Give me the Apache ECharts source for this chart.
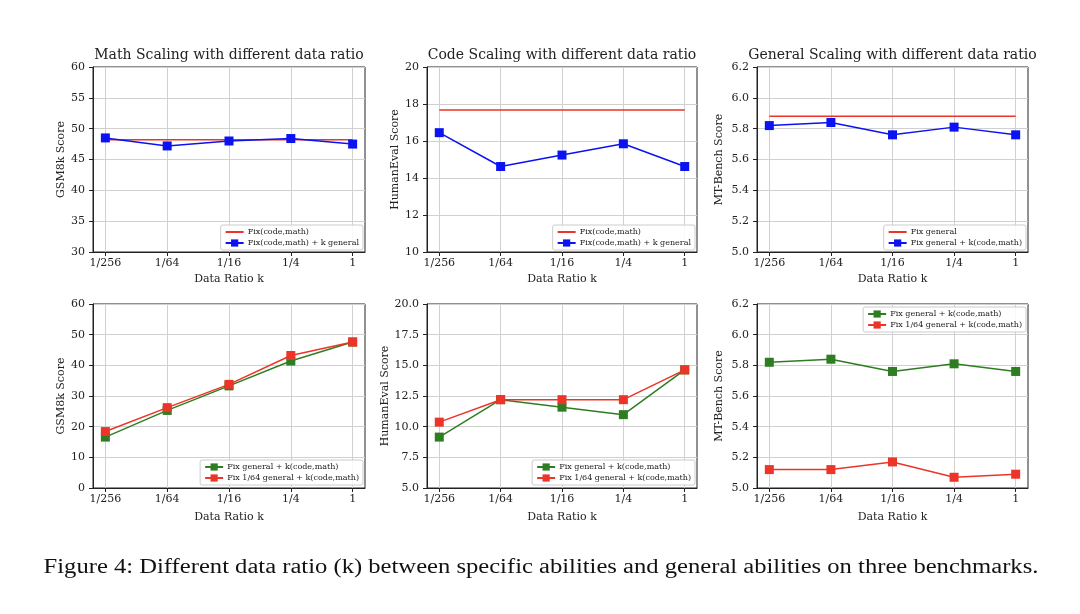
<!DOCTYPE html>
<html>
<head>
<meta charset="utf-8">
<script src="https://cdn.jsdelivr.net/npm/echarts@6/dist/echarts.min.js"></script>
<style>
html,body{margin:0;padding:0;background:#fff;}
#main{width:1080px;height:614px;}
</style>
</head>
<body>
<div id="main"></div>
<script>
// ---- data ----
const categories = ['1/256', '1/64', '1/16', '1/4', '1'];

const titles = ['Math Scaling with different data ratio', 'Code Scaling with different data ratio', 'General Scaling with different data ratio'];
const yNames = ['GSM8k Score', 'HumanEval Score', 'MT-Bench Score', 'GSM8k Score', 'HumanEval Score', 'MT-Bench Score'];
const xName = 'Data Ratio k';

// top row
const mathFixed = [48.2, 48.2, 48.2, 48.2, 48.2];
const mathKGeneral = [48.5, 47.2, 48.0, 48.4, 47.5];
const codeFixed = [17.67, 17.67, 17.67, 17.67, 17.67];
const codeKGeneral = [16.45, 14.62, 15.24, 15.85, 14.62];
const generalFixed = [5.88, 5.88, 5.88, 5.88, 5.88];
const generalKCodeMath = [5.82, 5.84, 5.76, 5.81, 5.76];

// bottom row
const mathFixGeneral = [16.6, 25.3, 33.3, 41.4, 47.6];
const mathFix164General = [18.4, 26.2, 33.8, 43.2, 47.6];
const codeFixGeneral = [9.15, 12.2, 11.59, 10.98, 14.63];
const codeFix164General = [10.37, 12.2, 12.2, 12.2, 14.63];
const mtFixGeneral = [5.82, 5.84, 5.76, 5.81, 5.76];
const mtFix164General = [5.12, 5.12, 5.17, 5.07, 5.09];

const legendLabels = {
  a: 'Fix(code,math)',
  b: 'Fix(code,math) + k general',
  c: 'Fix general',
  d: 'Fix general + k(code,math)',
  e: 'Fix general + k(code,math)',
  f: 'Fix 1/64 general + k(code,math)'
};

const yRanges = [
  {min: 30, max: 60, interval: 5, dec: 0},
  {min: 10, max: 20, interval: 2, dec: 0},
  {min: 5, max: 6.2, interval: 0.2, dec: 1},
  {min: 0, max: 60, interval: 10, dec: 0},
  {min: 5, max: 20, interval: 2.5, dec: 1},
  {min: 5, max: 6.2, interval: 0.2, dec: 1}
];

// ---- layout ----
const grids = [
  {left: 93, width: 272, top: 67, height: 185},
  {left: 427, width: 270, top: 67, height: 185},
  {left: 757, width: 271, top: 67, height: 185},
  {left: 93, width: 272, top: 304, height: 184},
  {left: 427, width: 270, top: 304, height: 184},
  {left: 757, width: 271, top: 304, height: 184}
];

const RED = '#ec3428', BLUE = '#0b13f2', GREEN = '#2f7d22';
const FONT = 'DejaVu Serif';
const toPts = arr => arr.map((v, i) => [i, v]);

const xAxes = grids.map((g, i) => ({
  type: 'value', gridIndex: i, min: -0.2, max: 4.2,
  name: xName, nameLocation: 'middle', nameGap: i < 3 ? 22 : 24,
  nameTextStyle: {fontFamily: FONT, fontSize: 11, color: '#222'},
  axisLine: {show: true, onZero: false, lineStyle: {color: '#222', width: 1}},
  axisTick: {show: true, inside: false, length: 4, lineStyle: {color: '#222'}, customValues: [0, 1, 2, 3, 4]},
  axisLabel: {fontFamily: FONT, fontSize: 11, color: '#222', margin: 6, customValues: [0, 1, 2, 3, 4],
    formatter: v => categories[Math.round(v)]},
  splitLine: {show: true, lineStyle: {color: '#d0d0d0', width: 1}}
}));

const yAxes = grids.map((g, i) => ({
  type: 'value', gridIndex: i, min: yRanges[i].min, max: yRanges[i].max, interval: yRanges[i].interval,
  name: yNames[i], nameLocation: 'middle', nameGap: i === 4 || i === 5 || i === 2 ? 32 : 26,
  nameTextStyle: {fontFamily: FONT, fontSize: 11, color: '#222'},
  axisLine: {show: true, onZero: false, lineStyle: {color: '#222', width: 1}},
  axisTick: {show: true, inside: false, length: 4, lineStyle: {color: '#222'}},
  axisLabel: {fontFamily: FONT, fontSize: 11, color: '#222', margin: 8,
    formatter: v => v.toFixed(yRanges[i].dec)},
  splitLine: {show: true, lineStyle: {color: '#d0d0d0', width: 1}}
}));

function plain(name, data, idx, color) {
  return {type: 'line', name, xAxisIndex: idx, yAxisIndex: idx, data: toPts(data),
    symbol: 'none', lineStyle: {color, width: 1.5}, itemStyle: {color}, silent: true, animation: false};
}
function marked(name, data, idx, color) {
  return {type: 'line', name, xAxisIndex: idx, yAxisIndex: idx, data: toPts(data),
    symbol: 'rect', symbolSize: 9, lineStyle: {color, width: 1.5}, itemStyle: {color}, animation: false};
}

const series = [
  plain('a', mathFixed, 0, RED), marked('b', mathKGeneral, 0, BLUE),
  plain('a2', codeFixed, 1, RED), marked('b2', codeKGeneral, 1, BLUE),
  plain('c', generalFixed, 2, RED), marked('d', generalKCodeMath, 2, BLUE),
  marked('e', mathFixGeneral, 3, GREEN), marked('f', mathFix164General, 3, RED),
  marked('e2', codeFixGeneral, 4, GREEN), marked('f2', codeFix164General, 4, RED),
  marked('e3', mtFixGeneral, 5, GREEN), marked('f3', mtFix164General, 5, RED)
];

const LINE_ICON = 'path://M0,0 L18,0 L18,2 L0,2 Z';

function legend(names, pos) {
  return Object.assign({
    data: names.map(n => (/^[ac]/.test(n) ? {name: n, icon: LINE_ICON} : {name: n})),
    orient: 'vertical', itemGap: 3, itemWidth: 18, itemHeight: 9,
    padding: [3, 4, 3, 4], backgroundColor: 'rgba(255,255,255,0.85)',
    borderColor: '#cccccc', borderWidth: 1, borderRadius: 2,
    selectedMode: false,
    textStyle: {fontFamily: FONT, fontSize: 8, color: '#222', padding: [0, 0, 0, -1]},
    formatter: n => legendLabels[n.replace(/\d$/, '')]
  }, pos);
}

const legends = [
  legend(['a', 'b'], {right: 1080 - 363, bottom: 614 - 250}),
  legend(['a2', 'b2'], {right: 1080 - 695, bottom: 614 - 250}),
  legend(['c', 'd'], {right: 1080 - 1026, bottom: 614 - 250}),
  legend(['e', 'f'], {right: 1080 - 363, bottom: 614 - 485}),
  legend(['e2', 'f2'], {right: 1080 - 695, bottom: 614 - 485}),
  legend(['e3', 'f3'], {right: 1080 - 1026, top: 307})
];

const titleComps = titles.map((t, i) => ({
  text: t, left: grids[i].left + grids[i].width / 2, top: 48, textAlign: 'center', padding: 0,
  textStyle: {fontFamily: FONT, fontSize: 14, fontWeight: 'normal', color: '#222'}
}));

const chart = echarts.init(document.getElementById('main'), null, {renderer: 'canvas'});
chart.setOption({
  backgroundColor: '#ffffff',
  animation: false,
  title: titleComps,
  grid: grids.map(g => Object.assign({show: true, borderColor: '#222', borderWidth: 1, backgroundColor: 'transparent'}, g)),
  xAxis: xAxes,
  yAxis: yAxes,
  legend: legends,
  series: series,
  graphic: [{
    type: 'text', x: 541, y: 568, scaleX: 1.23,
    style: {text: 'Figure 4: Different data ratio (k) between specific abilities and general abilities on three benchmarks.',
      font: '20px "Liberation Serif"', fill: '#111', align: 'center', verticalAlign: 'middle'}
  }]
});
</script>
</body>
</html>
